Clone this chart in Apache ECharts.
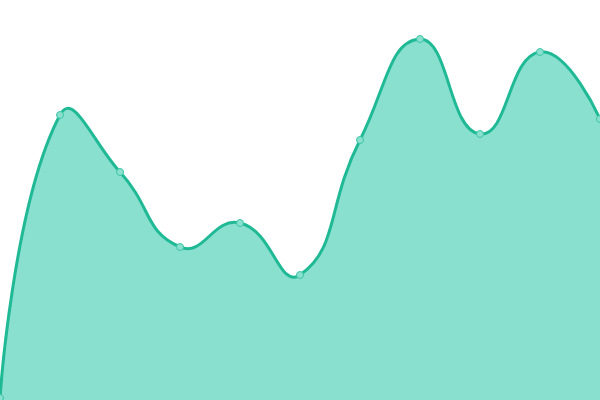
<!DOCTYPE html>
<html>
<head>
<meta charset="utf-8">
<script src="https://cdn.jsdelivr.net/npm/echarts@6/dist/echarts.min.js"></script>
<style>html,body{margin:0;padding:0;background:#fff}#c{width:600px;height:400px}</style>
</head>
<body>
<div id="c"></div>
<script>
var categories = ['1','2','3','4','5','6','7','8','9','10','11'];
var values = [2, 285, 228, 153, 177, 125, 260, 361, 266, 348, 281];

var SMOOTH = 0.5;
function smoothPath(pts) {
  var minX = Infinity, minY = Infinity, maxX = -Infinity, maxY = -Infinity;
  pts.forEach(function (p) {
    minX = Math.min(minX, p[0]); maxX = Math.max(maxX, p[0]);
    minY = Math.min(minY, p[1]); maxY = Math.max(maxY, p[1]);
  });
  var cps = [];
  var n = pts.length;
  for (var i = 0; i < n; i++) {
    var p = pts[i];
    if (i === 0 || i === n - 1) { cps.push([p[0], p[1]]); continue; }
    var pr = pts[i - 1], nx = pts[i + 1];
    var vx = (nx[0] - pr[0]) * SMOOTH, vy = (nx[1] - pr[1]) * SMOOTH;
    var d0 = Math.hypot(p[0] - pr[0], p[1] - pr[1]);
    var d1 = Math.hypot(p[0] - nx[0], p[1] - nx[1]);
    var s = d0 + d1;
    if (s) { d0 /= s; d1 /= s; }
    var c0 = [p[0] - vx * d0, p[1] - vy * d0];
    var c1 = [p[0] + vx * d1, p[1] + vy * d1];
    [c0, c1].forEach(function (c) {
      c[0] = Math.min(Math.max(c[0], minX), maxX);
      c[1] = Math.min(Math.max(c[1], minY), maxY);
    });
    cps.push(c0); cps.push(c1);
  }
  var d = 'M' + pts[0][0] + ',' + pts[0][1];
  for (var j = 0; j < n - 1; j++) {
    var a = cps[2 * j], b = cps[2 * j + 1], e = pts[j + 1];
    d += 'C' + a[0] + ',' + a[1] + ',' + b[0] + ',' + b[1] + ',' + e[0] + ',' + e[1];
  }
  return d;
}

var chart = echarts.init(document.getElementById('c'));
chart.setOption({
  animation: false,
  grid: {left: 0, right: 0, top: 0, bottom: 0},
  xAxis: {type: 'category', data: categories, boundaryGap: false, show: false},
  yAxis: {type: 'value', min: 0, max: 400, show: false},
  series: [{
    type: 'custom',
    data: values.map(function (v, i) { return [i, v]; }),
    renderItem: function (params, api) {
      if (params.dataIndex !== 0) return null;
      var pts = values.map(function (v, i) { return api.coord([i, v]); });
      var line = smoothPath(pts);
      var base = api.coord([0, 0])[1];
      var last = pts[pts.length - 1], first = pts[0];
      var area = line + 'L' + last[0] + ',' + base + 'L' + first[0] + ',' + base + 'Z';
      return {
        type: 'group',
        children: [
          {type: 'path', shape: {pathData: area}, style: {fill: '#8ae0ce', stroke: null}},
          {type: 'path', shape: {pathData: line}, style: {fill: null, stroke: '#1fb996', lineWidth: 3, lineJoin: 'round'}}
        ]
      };
    }
  }, {
    type: 'scatter',
    data: values.map(function (v, i) { return [i, v]; }),
    symbol: 'circle',
    symbolSize: 7,
    itemStyle: {color: '#8ae0ce', borderColor: '#3cc5a6', borderWidth: 1, opacity: 1}
  }]
});
</script>
</body>
</html>
